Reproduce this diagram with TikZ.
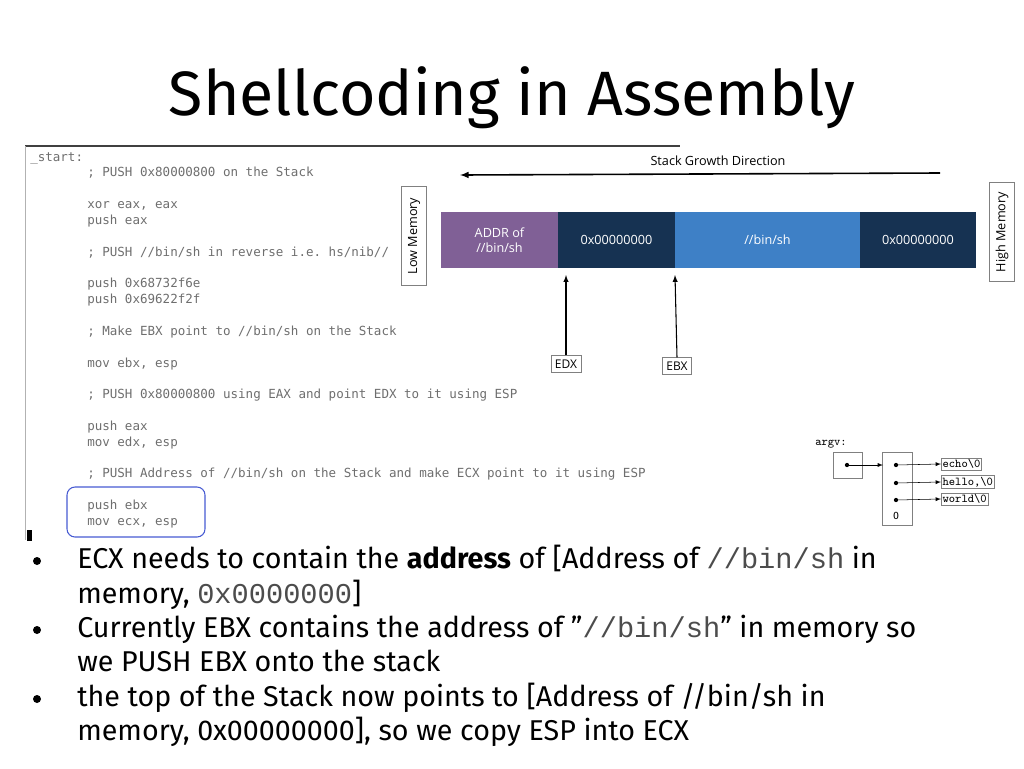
\documentclass[tikz,border=0pt]{standalone}
\usepackage{fontspec}
\setmainfont{Fira Sans}[Ligatures=ResetAll]
\setsansfont{Open Sans}
\setmonofont{DejaVu Sans Mono}
\newfontfamily\cour{Liberation Mono}
\newfontfamily\serifmono{Latin Modern Mono}
\definecolor{stackpurple}{RGB}{128,96,150}
\definecolor{stacknavy}{RGB}{22,50,82}
\definecolor{stackblue}{RGB}{62,128,198}
\definecolor{codegray}{RGB}{110,110,110}
\definecolor{hlblue}{RGB}{70,90,210}
\tikzset{
  codeline/.style={anchor=base west, inner sep=0pt, font=\ttfamily\fontsize{9.4}{11}\selectfont, text=codegray},
  cell/.style={minimum height=42pt, inner sep=0pt, text=white, font=\sffamily\fontsize{9.5}{11}\selectfont, align=center},
  tag/.style={draw=gray, fill=white, inner sep=3pt, font=\sffamily\fontsize{9}{10}\selectfont},
  memtag/.style={draw=gray, rotate=90, minimum width=74pt, minimum height=19pt, inner sep=1pt, font=\sffamily\fontsize{9.5}{10}\selectfont},
  bullet/.style={anchor=base west, inner sep=0pt, font=\fontsize{21.5}{24}\selectfont},
  argbox/.style={draw=gray, fill=white, inner sep=1pt, font=\serifmono\bfseries\fontsize{9}{10}\selectfont},
  ptr/.style={-latex, thin}
}
\begin{document}
\begin{tikzpicture}[x=0.75pt,y=-0.75pt]
    \useasboundingbox (0,0) rectangle (1024,768);

    % Title
    \node[font=\fontsize{47}{54}\selectfont] (title) at (512,98) {Shellcoding in Assembly};

    % Code panel frame
    \draw[line width=1.5pt, black!75] (25,146) -- (680,146);
    \draw[gray!60] (25,146) -- (25,540);
    \fill[black] (27,530) rectangle (32,541);

    % Listing
    \node[codeline] (c0) at (30,161) {\_start:};
    \foreach \yy/\txt in {
        176/{; PUSH 0x80000800 on the Stack},
        208/{xor eax, eax},
        224/{push eax},
        256/{; PUSH //bin/sh in reverse i.e. hs/nib//},
        287/{push 0x68732f6e},
        303/{push 0x69622f2f},
        335/{; Make EBX point to //bin/sh on the Stack},
        367/{mov ebx, esp},
        398/{; PUSH 0x80000800 using EAX and point EDX to it using ESP},
        430/{push eax},
        446/{mov edx, esp},
        477/{; PUSH Address of //bin/sh on the Stack and make ECX point to it using ESP},
        509/{push ebx},
        525/{mov ecx, esp}} {
        \node[codeline] at (87,\yy) {\txt};
    }
    \draw[hlblue, rounded corners=6pt, thick] (67,487) rectangle (205,537);

    % Stack
    \node[memtag] (low) at (414,236) {Low Memory};
    \node[memtag] (high) at (1002,232) {High Memory};
    \node[cell, fill=stackpurple, minimum width=87.75pt] (addr) at (499.5,240) {ADDR of\\//bin/sh};
    \node[cell, fill=stacknavy, minimum width=87.75pt] (zeroa) at (616.5,240) {0x00000000};
    \node[cell, fill=stackblue, minimum width=139.5pt] (binsh) at (767.5,240) {//bin/sh};
    \node[cell, fill=stacknavy, minimum width=87pt] (zerob) at (918,240) {0x00000000};

    \coordinate (grow0) at (940,173);
    \coordinate (grow1) at (460,175);
    \draw[-latex, line width=1.2pt] (grow0) -- (grow1);
    \node[font=\sffamily\fontsize{9.5}{10}\selectfont] (growlbl) at (718,161) {Stack Growth Direction};

    \node[tag] (edx) at (566,364) {EDX};
    \node[tag] (ebx) at (677,366) {EBX};
    \coordinate (edxtip) at (566,275);
    \coordinate (ebxtip) at (675,275);
    \draw[-latex, thick] (edx.north) -- (edxtip);
    \draw[-latex, thick] (ebx.north) -- (ebxtip);

    % argv diagram
    \node[anchor=base west, inner sep=0pt, font=\serifmono\bfseries\fontsize{9}{10}\selectfont] (argvlbl) at (815,445) {argv:};
    \draw[gray] (833,452) rectangle (862,478);
    \coordinate (argv) at (847,465);
    \draw[gray] (882,452) rectangle (912,525);
    \coordinate (av0) at (896,465);
    \coordinate (av1) at (896,483);
    \coordinate (av2) at (896,500);
    \node[font=\fontsize{8}{9}\selectfont] (nul) at (896,516) {0};
    \node[argbox, anchor=west] (echo) at (941,464) {echo\textbackslash0};
    \node[argbox, anchor=west] (hello) at (941,482) {hello,\textbackslash0};
    \node[argbox, anchor=west] (world) at (941,499) {world\textbackslash0};
    \foreach \p in {argv,av0,av1,av2} \fill (\p) circle (1.6pt);
    \draw[ptr] (argv) -- (883,465);
    \draw[ptr] (av0) -- (echo.west);
    \draw[ptr] (av1) -- (hello.west);
    \draw[ptr] (av2) -- (world.west);

    % Bullets
    \foreach \yy in {561,630,699} \fill (37,\yy) circle (3pt);
    \node[bullet] (b1) at (77,568) {ECX needs to contain the \textbf{address} of [Address of {\cour\color{black!70}//bin/sh} in};
    \node[bullet] (b1b) at (77,603) {memory, {\cour\color{black!70}0x0000000}]};
    \node[bullet] (b2) at (77,637) {Currently EBX contains the address of "{\cour\color{black!70}//bin/sh}" in memory so};
    \node[bullet] (b2b) at (77,671) {we PUSH EBX onto the stack};
    \node[bullet] (b3) at (77,706) {the top of the Stack now points to [Address of //bin/sh in};
    \node[bullet] (b3b) at (77,740) {memory, 0x00000000], so we copy ESP into ECX};
\end{tikzpicture}
\end{document}
